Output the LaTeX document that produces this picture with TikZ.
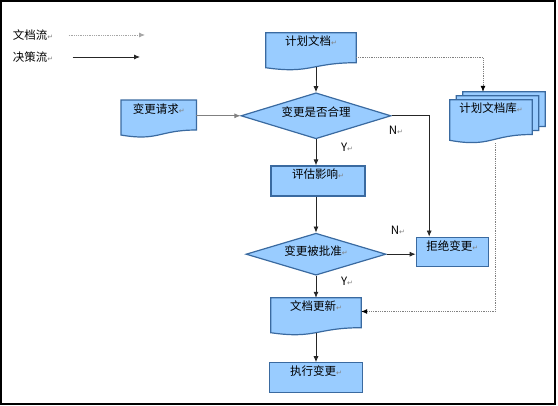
\documentclass[tikz,border=0pt]{standalone}
\usepackage{fontspec}
\setmainfont{Noto Sans CJK SC}
\newfontfamily\symfont{DejaVu Sans}
\usepackage{tikz}
\usetikzlibrary{calc,positioning,backgrounds,shapes.geometric,arrows.meta}

\definecolor{boxfill}{RGB}{153,204,255}
\definecolor{boxline}{RGB}{58,106,160}

\newcommand{\pmark}{{\color{gray}\symfont\scriptsize ↵}}
\newcommand{\docpath}[1]{(#1.north west) -- (#1.north east) -- ($(#1.north east)!0.8!(#1.south east)$) .. controls ($(#1.north)!0.8!(#1.south)$) and ($(#1.north)!1.107!(#1.south)$) .. ($(#1.north west)!0.934!(#1.south west)$) -- cycle}

\tikzset{
  docbox/.style={minimum width=90pt, inner xsep=0pt, inner ysep=0pt, text height=13pt, text depth=24pt},
  docline/.style={draw=boxline, fill=boxfill, line width=1.2pt},
  stepbox/.style={draw=boxline, fill=boxfill, line width=1.2pt, minimum width=94pt, inner xsep=0pt, inner ysep=0pt, text height=13pt, text depth=17pt},
  decide/.style={diamond, draw=boxline, fill=boxfill, line width=1.2pt, minimum width=150pt, minimum height=46pt, inner sep=0pt, aspect=3, text height=9pt, text depth=7pt},
  flow/.style={->, draw=black!85, line width=0.8pt},
  docflow/.style={-{Latex[black,length=6pt,width=5pt]}, densely dotted, draw=gray, line width=0.8pt},
}

\begin{document}
\begin{tikzpicture}[x=1pt, y=-1pt, >={Latex[length=6pt,width=5pt]}, font=\fontsize{11.5}{13}\selectfont]
	\useasboundingbox (0,0) rectangle (558,406);
	\draw[line width=1.3pt] (1,1) rectangle (555,404);
	% Legend
	\node (legdoc) at (33,35) {文档流\pmark};
	\node (legdec) at (33,57) {决策流\pmark};
	\coordinate (legdocend) at (145,35);
	\coordinate (legdecend) at (140,57);
	\draw[->, densely dotted, draw=gray!70, line width=0.8pt] ([xshift=12pt]legdoc.east) -- (legdocend);
	\draw[flow] ([xshift=16pt]legdec.east) -- (legdecend);
	% Main column
	\node[docbox] (plan) at (311,51.5) {计划文档\pmark};
	\node[decide, below=22pt of plan, xshift=5pt] (check) {变更是否合理};
	\node[stepbox, below=26pt of check, xshift=2pt] (assess) {评估影响\pmark};
	\node[decide, minimum width=140pt, minimum height=42pt, below=36pt of assess, xshift=-2pt] (approve) {变更被批准\pmark};
	\node[docbox, below=22pt of approve] (update) {文档更新\pmark};
	\node[stepbox, minimum width=93pt, below=27pt of update] (execute) {执行变更\pmark};
	% Side nodes
	\node[docbox, minimum width=75pt, left=44pt of check, yshift=-3pt] (request) {变更请求\pmark};
	\node[stepbox, minimum width=72pt, text depth=16pt, right=29pt of approve, yshift=2.5pt] (reject) {拒绝变更\pmark};
	\node[docbox, minimum width=82pt, text depth=30pt] (libback) at (504,113.5) {};
	\node[docbox, minimum width=82pt, text depth=30pt] (libmid) at (497.5,117.5) {};
	\node[docbox, minimum width=82pt, text depth=30pt] (lib) at (491,121.5) {计划文档库\pmark};
	% Document shapes
	\begin{scope}[on background layer]
		\filldraw[docline] \docpath{plan};
		\filldraw[docline] \docpath{request};
		\filldraw[docline] \docpath{update};
		\filldraw[docline] \docpath{libback};
		\filldraw[docline] \docpath{libmid};
		\filldraw[docline] \docpath{lib};
	\end{scope}
	% Labels
	\node (yes1) at (347,147) {Y\pmark};
	\node (no1) at (396,130) {N\pmark};
	\node (no2) at (398,230) {N\pmark};
	\node (yes2) at (347,281) {Y\pmark};
	% Decision flow
	\draw[flow] ([yshift=3pt]plan.south -| check.north) -- (check.north);
	\draw[flow, draw=gray] (request.east |- check.west) -- (check.west);
	\draw[flow] (check.south) -- (check.south |- assess.north);
	\draw[flow] (approve.north |- assess.south) -- (approve.north);
	\draw[flow] (approve.south) -- (update.north);
	\draw[flow] ([yshift=2pt]update.south) -- (execute.north);
	\draw[flow] (check.east) -| ([xshift=-23pt]reject.north);
	\draw[flow] (approve.east) -- (approve.east -| reject.west);
	% Document flow
	\draw[docflow] ([yshift=-6pt]plan.east) -| ([xshift=-21pt]libback.north);
	\draw[docflow] ([xshift=4pt]lib.south) |- ([yshift=5pt]update.east);
\end{tikzpicture}
\end{document}
